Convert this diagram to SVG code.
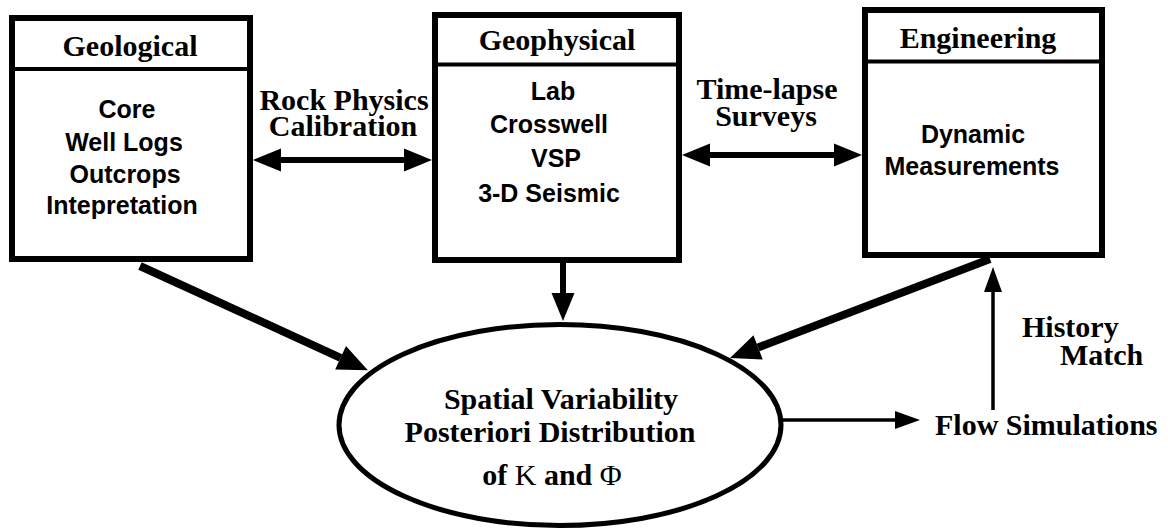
<svg xmlns="http://www.w3.org/2000/svg" width="1168" height="532" viewBox="0 0 1168 532">
  <style>
    .box { fill: #fff; stroke: #000; stroke-width: 6; }
    .div { stroke: #000; stroke-width: 4; }
    .hdr { font-family: "Liberation Serif", "Times New Roman", serif; font-weight: bold; font-size: 30px; text-anchor: middle; fill: #000; }
    .lbl { font-family: "Liberation Serif", "Times New Roman", serif; font-weight: bold; font-size: 30px; fill: #000; }
    .mid { text-anchor: middle; }
    .body { font-family: "Liberation Sans", Arial, sans-serif; font-weight: bold; font-size: 25px; text-anchor: middle; fill: #000; }
    .sym { font-weight: normal; }
    .c-med { stroke: #000; stroke-width: 6; fill: none; }
    .c-thick { stroke: #000; stroke-width: 8; fill: none; }
    .c-thin { stroke: #000; stroke-width: 3.5; fill: none; }
  </style>
  <defs>
    <marker id="hMed" markerUnits="userSpaceOnUse" viewBox="0 -12 28 24" markerWidth="28" markerHeight="24" refX="0" refY="0" orient="auto-start-reverse" overflow="visible">
      <path d="M0,-11.5 L28,0 L0,11.5 z" fill="#000"/>
    </marker>
    <marker id="hThick" markerUnits="userSpaceOnUse" viewBox="0 -13 30 26" markerWidth="30" markerHeight="26" refX="0" refY="0" orient="auto" overflow="visible">
      <path d="M0,-13 L30,0 L0,13 z" fill="#000"/>
    </marker>
    <marker id="hThin" markerUnits="userSpaceOnUse" viewBox="0 -9 25 18" markerWidth="25" markerHeight="18" refX="0" refY="0" orient="auto" overflow="visible">
      <path d="M0,-9 L25,0 L0,9 z" fill="#000"/>
    </marker>
  </defs>
  <rect width="1168" height="532" fill="#fff"/>

  <g id="connectors">
    <line class="c-med" x1="281" y1="160" x2="404" y2="160" marker-start="url(#hMed)" marker-end="url(#hMed)"/>
    <line class="c-med" x1="710" y1="155" x2="834" y2="155" marker-start="url(#hMed)" marker-end="url(#hMed)"/>
    <line class="c-med" x1="563" y1="262" x2="563" y2="293" marker-end="url(#hMed)"/>
    <line class="c-thick" x1="140" y1="266" x2="340.6" y2="357.8" marker-end="url(#hThick)"/>
    <line class="c-thick" x1="990" y1="259" x2="758.1" y2="347.4" marker-end="url(#hThick)"/>
    <line class="c-thin" x1="782" y1="420" x2="895" y2="420" marker-end="url(#hThin)"/>
    <line class="c-thin" x1="993" y1="410" x2="993" y2="292" marker-end="url(#hThin)"/>
  </g>

  <g id="geological">
    <rect class="box" x="12" y="18" width="238" height="241"/>
    <line class="div" x1="12" y1="69" x2="250" y2="69"/>
    <text class="hdr" x="130" y="56">Geological</text>
    <text class="body" x="127" y="118">Core</text>
    <text class="body" x="124" y="151">Well Logs</text>
    <text class="body" x="125" y="183">Outcrops</text>
    <text class="body" x="122" y="214">Intepretation</text>
  </g>

  <g id="geophysical">
    <rect class="box" x="435" y="15" width="244" height="245"/>
    <line class="div" x1="435" y1="64.5" x2="679" y2="64.5"/>
    <text class="hdr" x="557" y="50">Geophysical</text>
    <text class="body" x="553" y="100">Lab</text>
    <text class="body" x="549" y="133">Crosswell</text>
    <text class="body" x="556" y="167">VSP</text>
    <text class="body" x="549" y="202">3-D Seismic</text>
  </g>

  <g id="engineering">
    <rect class="box" x="865" y="10" width="237" height="245"/>
    <line class="div" x1="865" y1="61.5" x2="1102" y2="61.5"/>
    <text class="hdr" x="978" y="48">Engineering</text>
    <text class="body" x="973" y="143">Dynamic</text>
    <text class="body" x="972" y="175">Measurements</text>
  </g>

  <g id="posterior">
    <ellipse cx="560" cy="425" rx="221" ry="100.5" fill="#fff" stroke="#000" stroke-width="5"/>
    <text class="hdr" x="561" y="409">Spatial Variability</text>
    <text class="hdr" x="550" y="442">Posteriori Distribution</text>
    <text class="hdr" x="552" y="485">of  <tspan class="sym">K</tspan> and <tspan class="sym">Φ</tspan></text>
  </g>

  <g id="flow-simulations">
    <text class="lbl" x="935" y="435">Flow Simulations</text>
  </g>

  <g id="labels">
    <text class="lbl mid" x="344" y="110">Rock Physics</text>
    <text class="lbl mid" x="343" y="136">Calibration</text>
    <text class="lbl mid" x="767" y="99">Time-lapse</text>
    <text class="lbl mid" x="766" y="126">Surveys</text>
    <text class="lbl" x="1022" y="337">History</text>
    <text class="lbl" x="1060" y="365">Match</text>
  </g>
</svg>
